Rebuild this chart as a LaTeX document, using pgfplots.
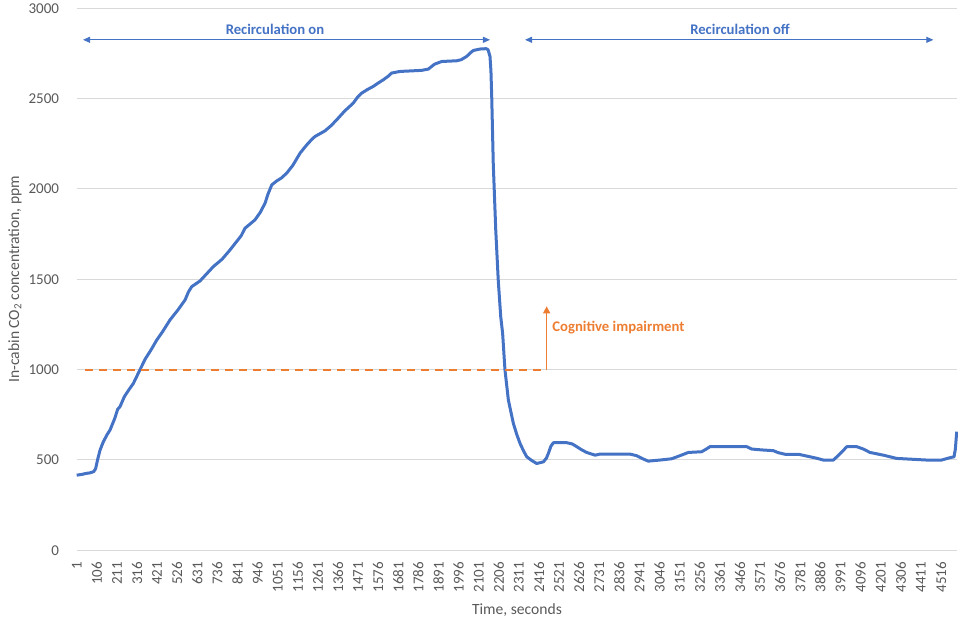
\documentclass[border=0pt]{standalone}
\usepackage{pgfplots}
\pgfplotsset{compat=1.18}
\usepackage{fontspec}
\setmainfont{Carlito}
\usetikzlibrary{arrows.meta}
\definecolor{xlblue}{HTML}{4472C4}
\definecolor{xlorange}{HTML}{ED7D31}
\definecolor{xlgrid}{HTML}{D9D9D9}
\definecolor{xltext}{HTML}{595959}
\begin{document}
\begin{tikzpicture}
\useasboundingbox (-76.7pt,-73pt) rectangle (881.3pt,550.2pt);
\begin{axis}[
  at={(0,0)}, anchor=south west,
  scale only axis, width=880pt, height=542pt,
  xmin=1, xmax=4598, ymin=0, ymax=3000,
  xtick={1,106,...,4516},
  ytick={0,500,...,3000},
  ymajorgrids, grid style={xlgrid, line width=0.8pt},
  axis line style={draw=none},
  major tick length=0pt,
  /pgf/number format/1000 sep={},
  /pgf/number format/assume math mode=true,
  tick label style={font=\fontsize{15}{17}\selectfont, text=xltext},
  yticklabel style={inner sep=0pt, anchor=east},
  yticklabel shift=17.5pt,
  xticklabel style={inner sep=0pt, rotate=90, anchor=east},
  xticklabel shift=11.5pt,
  clip=false,
]
\addplot[xlblue, line width=3pt, line join=round] coordinates {
(1,415)(30,420)(50,425)(70,428)(90,435)(100,452)(110,500)(123,554)(140,600)(160,640)
(175,665)(200,730)(215,780)(227,794)(250,850)(275,890)(297,923)(332,1000)(360,1060)
(390,1110)(419,1163)(450,1210)(488,1274)(530,1330)(567,1385)(585,1430)(602,1459)
(645,1490)(680,1530)(715,1570)(760,1610)(802,1662)(830,1700)(860,1740)(880,1782)
(932,1828)(960,1870)(985,1921)(1000,1970)(1020,2022)(1046,2044)(1070,2060)(1098,2087)
(1130,2130)(1168,2198)(1200,2240)(1230,2275)(1246,2290)(1298,2321)(1330,2350)
(1359,2382)(1400,2430)(1446,2475)(1470,2510)(1490,2530)(1520,2550)(1550,2567)
(1575,2585)(1603,2604)(1630,2625)(1646,2641)(1690,2650)(1750,2653)(1803,2656)
(1838,2663)(1870,2690)(1908,2705)(1986,2709)(2010,2715)(2038,2733)(2060,2755)
(2073,2766)(2108,2774)(2140,2776)(2150,2770)(2160,2733)(2165,2650)(2169,2511)
(2177,2142)(2190,1773)(2203,1496)(2216,1293)(2226,1200)(2238,1000)(2256,831)
(2282,702)(2300,640)(2317,591)(2335,550)(2352,517)(2380,495)(2404,480)(2439,489)
(2455,510)(2465,536)(2478,575)(2491,595)(2561,595)(2590,588)(2613,573)(2640,555)
(2665,541)(2709,526)(2735,532)(2891,532)(2926,523)(2960,505)(2987,493)(3048,499)
(3109,506)(3152,523)(3196,541)(3266,545)(3290,560)(3309,573)(3501,573)(3527,560)
(3580,555)(3640,551)(3665,540)(3701,531)(3771,531)(3832,517)(3870,508)(3901,499)
(3954,499)(3990,535)(4024,573)(4076,573)(4110,560)(4145,541)(4215,526)(4284,508)
(4354,504)(4441,499)(4519,499)(4563,512)(4584,517)(4591,560)(4598,656)
};
\addplot[xlorange, line width=2pt, dash pattern=on 8pt off 6pt] coordinates {(44,1000)(2456,1000)};
\draw[xlorange, line width=1.5pt, -{Triangle[length=7pt,width=7pt]}] (axis cs:2456,1000) -- (axis cs:2456,1350);
\node[anchor=west, text=xlorange, font=\fontsize{14.7}{16}\selectfont\bfseries, inner sep=0pt] at (axis cs:2485,1230) {Cognitive impairment};
\draw[xlblue, line width=1pt, {Triangle[length=7pt,width=6pt]}-{Triangle[length=7pt,width=6pt]}] (axis cs:34,2825) -- (axis cs:2160,2825);
\draw[xlblue, line width=1pt, {Triangle[length=7pt,width=6pt]}-{Triangle[length=7pt,width=6pt]}] (axis cs:2343,2825) -- (axis cs:4476,2825);
\node[text=xlblue, font=\fontsize{14.7}{16}\selectfont\bfseries, inner sep=0pt] at (axis cs:1037,2885) {Recirculation on};
\node[text=xlblue, font=\fontsize{14.7}{16}\selectfont\bfseries, inner sep=0pt] at (axis cs:3466,2885) {Recirculation off};
\node[rotate=90, text=xltext, font=\fontsize{15.6}{17}\selectfont, anchor=center] at (axis description cs:-0.0701,0.5) {In-cabin CO\textsubscript{2} concentration, ppm};
\node[text=xltext, font=\fontsize{15.6}{17}\selectfont, anchor=center] at (axis description cs:0.5003,-0.1107) {Time, seconds};
\end{axis}
\end{tikzpicture}
\end{document}
